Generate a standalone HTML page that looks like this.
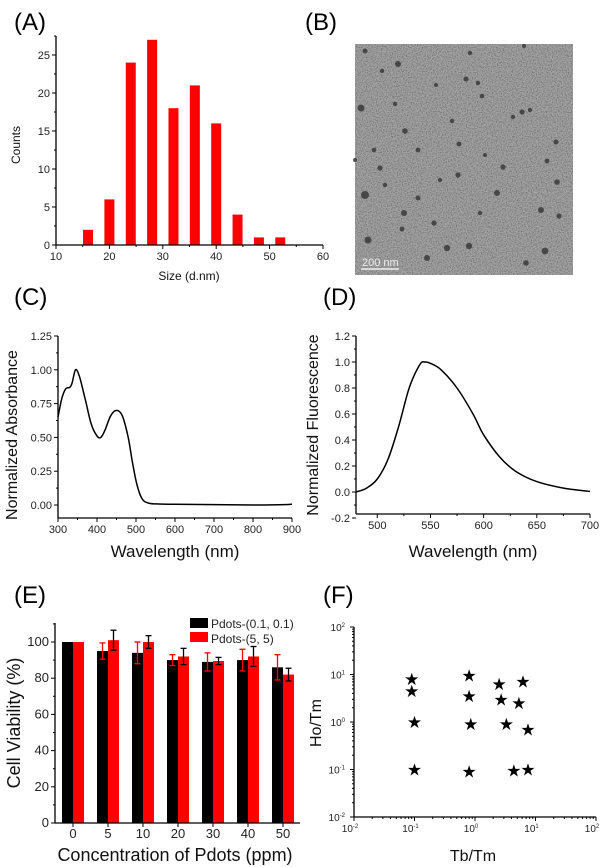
<!DOCTYPE html>
<html><head><meta charset="utf-8"><style>
body{margin:0;background:#fff}
svg{display:block;font-family:"Liberation Sans",Arial,sans-serif}
</style></head><body>
<svg id="fig" width="608" height="867" viewBox="0 0 608 867" xmlns="http://www.w3.org/2000/svg">
<defs>
<filter id="noise" filterUnits="userSpaceOnUse" x="355" y="44" width="218" height="231">
<feTurbulence type="fractalNoise" baseFrequency="0.8" numOctaves="2" seed="3" result="t"/>
<feColorMatrix in="t" type="matrix" values="0 0 0 0 0  0 0 0 0 0  0 0 0 0 0  0 0 0 -2.2 1.3" result="dark"/>
</filter>
</defs>
<g id="panelB">
<text x="305" y="30" font-size="24">(B)</text>
<rect x="355" y="44" width="218" height="231" fill="#a2a2a2"/>
<rect x="355" y="44" width="218" height="231" fill="#000" filter="url(#noise)" opacity="0.35"/>
<g id="dots" fill="#333"></g>
<line x1="361" y1="269" x2="399" y2="269" stroke="#eee" stroke-width="1.5"/>
<text x="362" y="266" font-size="11" fill="#eee">200  nm</text>
</g>
</svg>
<script>
const NS="http://www.w3.org/2000/svg";
const fig=document.getElementById('fig');
function mk(tag,attrs,parent,txt){const e=document.createElementNS(NS,tag);for(const k in attrs)e.setAttribute(k,attrs[k]);if(txt!==undefined)e.textContent=txt;(parent||fig).appendChild(e);return e;}

// ---- Data ----
const sizeBins=[16,20,24,28,32,36,40,44,48,52];
const sizeCounts=[2,6,24,27,18,21,16,4,1,1];
const absWl=[300,310,320,330,336,345,355,370,385,400,410,420,435,450,465,480,490,500,510,520,535,550,600,700,800,880,900];
const absVal=[0.65,0.79,0.86,0.87,0.9,1.0,0.95,0.78,0.6,0.51,0.5,0.55,0.66,0.70,0.66,0.5,0.33,0.18,0.08,0.03,0.012,0.008,0.005,0.003,0.0,0.003,0.006];
const flWl=[480,490,500,510,520,530,540,545,550,560,575,590,600,615,630,650,675,700];
const flVal=[0,0.03,0.1,0.25,0.5,0.8,0.98,1.0,0.99,0.94,0.8,0.6,0.44,0.27,0.16,0.08,0.03,0.005];
const concCats=["0","5","10","20","30","40","50"];
const viabA=[100,95,94,90,89,90,86];
const errA=[0,4.5,6,3,5,6,7];
const viabB=[100,101,100,92,89.5,92,82];
const errB=[0,5.5,3.5,4.5,2,5.5,3.5];
const tbtm=[0.09,0.09,0.1,0.1,0.8,0.8,0.85,0.8,2.5,2.7,3.3,4.4,5.3,6.2,7.5,7.5];
const hotm=[8,4.5,1,0.1,9.5,3.5,0.9,0.09,6.3,3,0.9,0.095,2.5,7.2,0.7,0.1];
const temDots=[[365,51],[398,64],[382,71],[361,108],[374,150],[380,168],[418,150],[405,131],[452,121],[459,144],[466,79],[482,96],[458,175],[497,193],[503,167],[522,112],[547,161],[556,142],[559,216],[365,195],[368,240],[402,229],[404,213],[434,223],[427,258],[447,248],[469,246],[526,263],[541,210],[557,182],[545,251],[470,53],[395,104],[436,85],[524,46],[478,83],[513,117],[418,198],[480,213],[355,160],[385,185],[530,110],[440,180],[485,155]];
const temR=[1.5,2,1.2,2.5,1.3,1.6,1.4,1.8,1.2,1.4,1.5,1.3,1.6,2,1.6,1.6,1.4,1.5,1.6,3,2.5,1.4,2,1.6,2,2.2,2.2,1.8,2,1.8,2.4,1.2,1.2,1,1,1.2,1.2,1.5,1.2,1,1.2,1.1,1.1,1];

const dg=document.getElementById('dots');
temDots.forEach((d,i)=>{const c=mk('circle',{cx:d[0],cy:d[1],r:temR[i]+1,fill:'#3a3a3a',opacity:0.85},dg);

});

function lin(d0,d1,r0,r1){return v=>r0+(v-d0)*(r1-r0)/(d1-d0);}
function smooth(pts){let d='M'+pts[0][0].toFixed(1)+' '+pts[0][1].toFixed(1);
 for(let i=0;i<pts.length-1;i++){const p0=pts[i-1]||pts[i],p1=pts[i],p2=pts[i+1],p3=pts[i+2]||p2;
  const c1=[p1[0]+(p2[0]-p0[0])/6,p1[1]+(p2[1]-p0[1])/6],c2=[p2[0]-(p3[0]-p1[0])/6,p2[1]-(p3[1]-p1[1])/6];
  d+=`C${c1[0].toFixed(1)} ${c1[1].toFixed(1)} ${c2[0].toFixed(1)} ${c2[1].toFixed(1)} ${p2[0].toFixed(1)} ${p2[1].toFixed(1)}`;}
 return d;}
function axes(g,x0,x1,y0,y1){
 const l=mk('line',{x1:x0,y1:y0,x2:x0,y2:y1,stroke:'#000','stroke-width':1.3},g);
 
 const b=mk('line',{x1:x0,y1:y0,x2:x1,y2:y0,stroke:'#000','stroke-width':1.3},g);
 
}
function xtick(g,x,y,label,minor,fs){
 mk('line',{x1:x,y1:y,x2:x,y2:y+(minor?2:4),stroke:'#000','stroke-width':1},g);
 if(label!==undefined){const t=mk('text',{x:x,y:y+15,'font-size':fs||11,'text-anchor':'middle',fill:'#222'},g,label);
 }
}
function ytick(g,x,y,label,minor,fs){
 mk('line',{x1:x,y1:y,x2:x-(minor?2:4),y2:y,stroke:'#000','stroke-width':1},g);
 if(label!==undefined){const t=mk('text',{x:x-6,y:y+4,'font-size':fs||11,'text-anchor':'end',fill:'#222'},g,label);
 }
}
function title(g,x,y,txt,fs,rot,name){
 const t=mk('text',{x:x,y:y,'font-size':fs,'text-anchor':'middle',fill:'#111',transform:rot?`rotate(-90 ${x} ${y})`:''},g,txt);
 
}
function panelLabel(x,y,txt,name){const t=mk('text',{x:x,y:y,'font-size':24},fig,txt);
 }

// ---- Panel A ----
{const g=mk('g',{});
 panelLabel(14,30,'(A)','panel-label-a');
 const X=lin(10,60,56,323),Y=lin(0,25,245,55);
 sizeBins.forEach((b,i)=>{const r=mk('rect',{x:X(b)-5,y:Y(sizeCounts[i]),width:10,height:Y(0)-Y(sizeCounts[i]),fill:'#ff0000'},g);
  });
 axes(g,56,323,245,36);
 for(let v=10;v<=60;v+=5)xtick(g,X(v),245,v%10===0?String(v):undefined,v%10!==0);
 for(let v=0;v<=27.5;v+=2.5)ytick(g,56,Y(v),v%5===0?String(v):undefined,v%5!==0);
 title(g,189,280,'Size (d.nm)',12,false,'x-axis-title');
 title(g,20,145,'Counts',12,true,'y-axis-title');
}
// ---- Panel C ----
{const g=mk('g',{});
 panelLabel(14,305,'(C)','panel-label-c');
 const X=lin(300,900,58,292),Y=lin(0,1.25,505,336);
 const p=mk('path',{d:smooth(absWl.map((w,i)=>[X(w),Y(absVal[i])])),fill:'none',stroke:'#000','stroke-width':1.5},g);
 
 axes(g,58,292,518,336);
 for(let v=300;v<=900;v+=50)xtick(g,X(v),518,v%100===0?String(v):undefined,v%100!==0);
 for(let k=-0;k<=10;k++){const v=k*0.125;ytick(g,58,Y(v),k%2?undefined:v.toFixed(2),k%2===1);}
 title(g,175,557,'Wavelength (nm)',17,false,'x-axis-title');
 title(g,17,435,'Normalized Absorbance',16,true,'y-axis-title');
}
// ---- Panel D ----
{const g=mk('g',{});
 panelLabel(323,305,'(D)','panel-label-d');
 const X=lin(480,700,356,590),Y=lin(0,1.2,492,336);
 const p=mk('path',{d:smooth(flWl.map((w,i)=>[X(w),Y(flVal[i])])),fill:'none',stroke:'#000','stroke-width':1.5},g);
 
 axes(g,356,590,514,336);
 for(let v=500;v<=700;v+=25)xtick(g,X(v),514,v%50===0?String(v):undefined,v%50!==0);
 for(let k=-2;k<=12;k++){const v=k/10;ytick(g,356,Y(v),k%2===0?v.toFixed(1):undefined,k%2!==0);}
 title(g,473,557,'Wavelength (nm)',17,false,'x-axis-title');
 title(g,318,425,'Normalized Fluorescence',16,true,'y-axis-title');
}
// ---- Panel E ----
{const g=mk('g',{});
 panelLabel(14,603,'(E)','panel-label-e');
 const Y=lin(0,100,823,642);const cx=i=>73+i*35;
 concCats.forEach((c,i)=>{
  const a=mk('rect',{x:cx(i)-11,y:Y(viabA[i]),width:11,height:823-Y(viabA[i]),fill:'#000'},g);
  
  const b=mk('rect',{x:cx(i),y:Y(viabB[i]),width:11,height:823-Y(viabB[i]),fill:'#ff0000'},g);
  
  [[cx(i)-5.5,viabA[i],errA[i],'#ff0000'],[cx(i)+5.5,viabB[i],errB[i],'#000']].forEach(e=>{
   if(e[2]>0){const y1=Y(e[1]+e[2]),y2=Y(e[1]-e[2]);
    const eg=mk('g',{stroke:e[3],'stroke-width':1.3},g);
    
    mk('line',{x1:e[0],y1:y1,x2:e[0],y2:y2},eg);mk('line',{x1:e[0]-3,y1:y1,x2:e[0]+3,y2:y1},eg);mk('line',{x1:e[0]-3,y1:y2,x2:e[0]+3,y2:y2},eg);}
  });
  xtick(g,cx(i),823,c,false,13);
 });
 axes(g,55,300,823,623);
 for(let v=0;v<=110;v+=10)ytick(g,55,Y(v),v%20===0?String(v):undefined,v%20!==0,13);
 const l1=mk('rect',{x:190,y:618,width:18,height:10,fill:'#000'},g);
 const t1=mk('text',{x:211,y:628,'font-size':12,fill:'#222'},g,'Pdots-(0.1, 0.1)');
 const l2=mk('rect',{x:190,y:632,width:18,height:10,fill:'#ff0000'},g);
 const t2=mk('text',{x:211,y:643,'font-size':12,fill:'#222'},g,'Pdots-(5, 5)');
 title(g,175,861,'Concentration of Pdots (ppm)',18,false,'x-axis-title');
 title(g,20,723,'Cell Viability (%)',18,true,'y-axis-title');
}
// ---- Panel F ----
{const g=mk('g',{});
 panelLabel(323,603,'(F)','panel-label-f');
 const X=v=>354+(Math.log10(v)+2)*60.5, Y=v=>817-(Math.log10(v)+2)*47.5;
 axes(g,354,596,817,627);
 const sup=['-2','-1','0','1','2'];
 for(let k=-2;k<=2;k++){
  const xt=mk('text',{x:X(Math.pow(10,k))-4,y:832,'font-size':10,'text-anchor':'middle',fill:'#222'},g,'10');
  
  mk('tspan',{dy:-4,'font-size':6},xt,sup[k+2]);
  mk('line',{x1:X(Math.pow(10,k)),y1:817,x2:X(Math.pow(10,k)),y2:821,stroke:'#000'},g);
  const yt=mk('text',{x:345,y:Y(Math.pow(10,k))+4,'font-size':10,'text-anchor':'end',fill:'#222'},g,'10');
  
  mk('tspan',{dy:-4,'font-size':6},yt,sup[k+2]);
  mk('line',{x1:354,y1:Y(Math.pow(10,k)),x2:350,y2:Y(Math.pow(10,k)),stroke:'#000'},g);
  if(k<2)for(let m=2;m<=9;m++){const v=m*Math.pow(10,k);
   mk('line',{x1:X(v),y1:817,x2:X(v),y2:819,stroke:'#000'},g);
   mk('line',{x1:354,y1:Y(v),x2:352,y2:Y(v),stroke:'#000'},g);}
 }
 tbtm.forEach((t,i)=>{const s=mk('text',{x:X(t),y:Y(hotm[i])+6,'font-size':17,'text-anchor':'middle',fill:'#000'},g,'★');
  });
 title(g,473,861,'Tb/Tm',16,false,'x-axis-title');
 title(g,321,723,'Ho/Tm',16,true,'y-axis-title');
}
</script>
</body></html>
